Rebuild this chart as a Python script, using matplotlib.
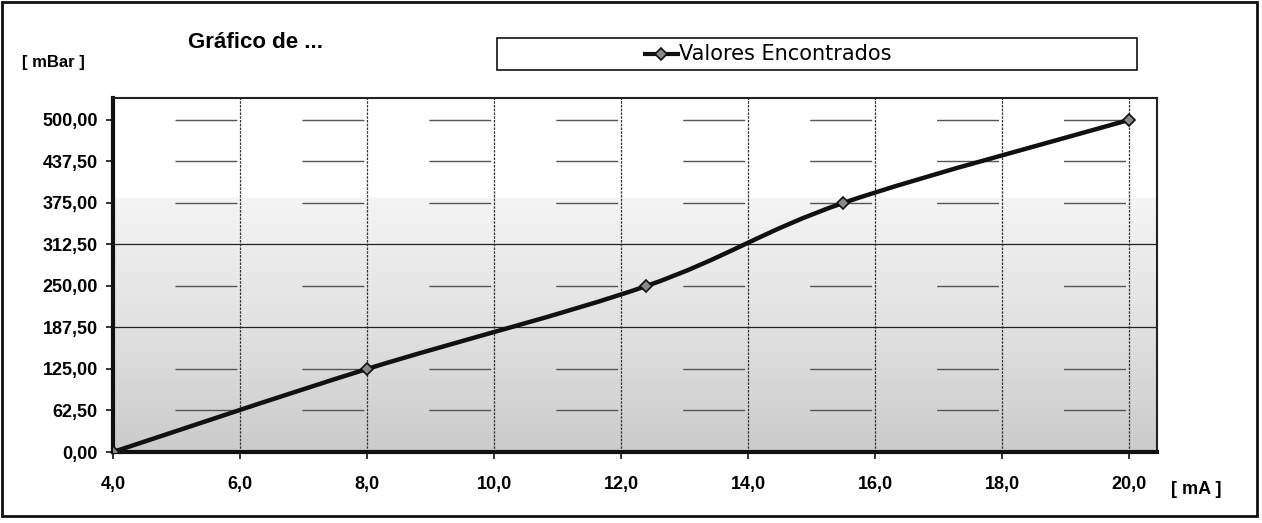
import numpy as np
import matplotlib.pyplot as plt
from matplotlib.path import Path
from matplotlib.patches import PathPatch, Rectangle
from matplotlib.lines import Line2D
from matplotlib.colors import LinearSegmentedColormap

# Data
corrente_ma = [4.0, 8.0, 12.4, 15.5, 20.0]
pressao_mbar = [0.0, 125.0, 250.0, 375.0, 500.0]
x_ticks = [4.0, 6.0, 8.0, 10.0, 12.0, 14.0, 16.0, 18.0, 20.0]
y_ticks = [0.0, 62.5, 125.0, 187.5, 250.0, 312.5, 375.0, 437.5, 500.0]

def fmt(v, dec):
    return f"{v:.{dec}f}".replace(".", ",")

fig = plt.figure(figsize=(12.62, 5.23), dpi=100)
ax = fig.add_axes([113/1262, 71/523, 1044/1262, 354/523])
ax.set_xlim(4, 20.44)
ax.set_ylim(0, 533)

# shaded background (scanned gradient)
cmap = LinearSegmentedColormap.from_list('bg', ['#cbcbcb', '#dedede', '#eeeeee', '#ffffff', '#ffffff'])
grad = np.linspace(0, 1, 256).reshape(-1, 1)
grad = np.where(grad < 0.72, grad / 0.72 * 0.6, 1.0)
ax.imshow(grad, aspect='auto', cmap=cmap, vmin=0, vmax=1, origin='lower',
          extent=[4, 20.44, 0, 533], zorder=0)

# gridlines
for xv in x_ticks[1:]:
    ax.axvline(xv, color='#333333', lw=0.9, ls=(0, (2, 1)), zorder=1)
for yv in y_ticks[1:]:
    if yv in (187.5, 312.5):
        ax.axhline(yv, color='#222222', lw=0.9, zorder=1)
    else:
        ax.axhline(yv, color='#555555', lw=1.0, ls=(46.8, (44.6, 46.8)), zorder=1)

# smooth line (Catmull-Rom as cubic Bezier segments)
pts = np.column_stack([corrente_ma, pressao_mbar])
verts = [tuple(pts[0])]
codes = [Path.MOVETO]
for i in range(len(pts) - 1):
    p0 = pts[max(i - 1, 0)]
    p1 = pts[i]
    p2 = pts[i + 1]
    p3 = pts[min(i + 2, len(pts) - 1)]
    c1 = p1 + (p2 - p0) / 6
    c2 = p2 - (p3 - p1) / 6
    verts += [tuple(c1), tuple(c2), tuple(p2)]
    codes += [Path.CURVE4] * 3
ax.add_patch(PathPatch(Path(verts, codes), fill=False, lw=3.2, ec='#111111', zorder=3))
ax.plot(corrente_ma, pressao_mbar, ls='none', marker='D', ms=6, mfc='#888888',
        mec='#111111', mew=1.2, zorder=4)

tick_font = {'family': 'Liberation Sans', 'weight': 'bold', 'size': 13}
ax.set_xticks(x_ticks)
ax.set_xticklabels([fmt(v, 1) for v in x_ticks], fontdict=tick_font)
ax.set_yticks(y_ticks)
ax.set_yticklabels([fmt(v, 2) for v in y_ticks], fontdict=tick_font)
ax.tick_params(axis='both', direction='out', length=5, width=1.2, color='#111111')
ax.tick_params(axis='x', pad=12)
ax.tick_params(axis='y', pad=6)

for side in ['left', 'bottom']:
    ax.spines[side].set_linewidth(3)
    ax.spines[side].set_color('#111111')
for side in ['top', 'right']:
    ax.spines[side].set_linewidth(1.5)
    ax.spines[side].set_color('#222222')

# labels and title
fig.text(22/1262, 1 - 62/523, '[ mBar ]', fontsize=12, fontweight='bold', family='Liberation Sans',
         va='center', ha='left')
fig.text(1171/1262, 1 - 490/523, '[ mA ]', fontsize=13, fontweight='bold', family='Liberation Sans',
         va='center', ha='left')
fig.text(188/1262, 1 - 43/523, 'Gráfico de ...', fontsize=16, fontweight='bold',
         family='Liberation Sans', va='center', ha='left')

# legend box
fig.patches.append(Rectangle((497/1262, 1 - 70/523), 640/1262, 32/523, transform=fig.transFigure,
                             fill=False, ec='#111111', lw=1.2))
fig.lines.append(Line2D([645/1262, 678/1262], [1 - 54/523] * 2, transform=fig.transFigure,
                        color='#111111', lw=3))
fig.lines.append(Line2D([661/1262], [1 - 54/523], transform=fig.transFigure, color='#111111',
                        marker='D', ms=6, mfc='#888888', mec='#111111', mew=1.2))
fig.text(679/1262, 1 - 54/523, 'Valores Encontrados', fontsize=15, family='DejaVu Sans',
         va='center', ha='left')

# outer frame
fig.patches.append(Rectangle((2/1262, 1 - 516/523), 1255/1262, 514/523, transform=fig.transFigure,
                             fill=False, ec='#111111', lw=2))

fig.savefig('out.png', dpi=100)
